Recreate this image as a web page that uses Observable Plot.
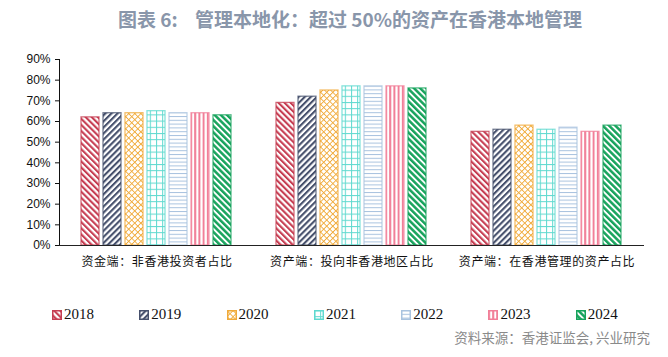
<!DOCTYPE html>
<html>
<head>
<meta charset="utf-8">
<script src="https://cdn.jsdelivr.net/npm/d3@7"></script>
<script src="https://cdn.jsdelivr.net/npm/@observablehq/plot@0.6"></script>
<style>
  body { margin: 0; background: #fff; width: 668px; height: 357px; overflow: hidden; font-family: "Noto Sans CJK SC", sans-serif; }
  #title { height: 40px; line-height: 38px; text-align: center; font-size: 19px; font-weight: bold; color: #8996aa; padding-left: 32px; box-sizing: border-box; white-space: pre; }
  #chart { height: 250px; }
  #legend { position: absolute; top: 306px; left: 52px; display: flex; }
  .item { width: 87.3px; display: flex; align-items: center; font-family: "Liberation Serif", serif; font-size: 15px; color: #111; }
  .item svg { margin-right: 2px; }
  #caption { position: absolute; top: 327px; right: 18px; font-size: 13.5px; color: #8a8a8a; }
</style>
</head>
<body>
<svg width="0" height="0" style="position:absolute">
  <defs id="defs"></defs>
</svg>
<div id="title">图表 6:    管理本地化：超过 50%的资产在香港本地管理</div>
<div id="chart"></div>
<div id="legend"></div>
<div id="caption">资料来源：香港证监会, 兴业研究</div>
<script>
const categories = ["资金端：非香港投资者占比", "资产端：投向非香港地区占比", "资产端：在香港管理的资产占比"];
const years = ["2018", "2019", "2020", "2021", "2022", "2023", "2024"];
const v2018 = [0.62, 0.69, 0.55];
const v2019 = [0.64, 0.72, 0.56];
const v2020 = [0.64, 0.75, 0.58];
const v2021 = [0.65, 0.77, 0.56];
const v2022 = [0.64, 0.77, 0.57];
const v2023 = [0.64, 0.77, 0.55];
const v2024 = [0.63, 0.76, 0.58];
const yTicks = [0, 0.1, 0.2, 0.3, 0.4, 0.5, 0.6, 0.7, 0.8, 0.9];

const series = [v2018, v2019, v2020, v2021, v2022, v2023, v2024];
const colors = {"2018": "#c63d52", "2019": "#46506c", "2020": "#f0aa3a", "2021": "#5fd9cf", "2022": "#a9c3df", "2023": "#f17f98", "2024": "#17a35c"};

// SVG patterns
const defs = document.getElementById("defs");
function pat(id, size, rot, inner) {
  return `<pattern id="${id}" patternUnits="userSpaceOnUse" width="${size}" height="${size}" patternTransform="rotate(${rot})"><rect width="${size}" height="${size}" fill="#fff"/>${inner}</pattern>`;
}
defs.innerHTML =
  pat("p2018", 4.3, -45, `<rect x="0" y="0" width="2.1" height="4.3" fill="${colors["2018"]}"/>`) +
  pat("p2019", 4.3, 45, `<rect x="0" y="0" width="2.1" height="4.3" fill="${colors["2019"]}"/>`) +
  pat("p2020", 4.3, 45, `<rect x="0" y="0" width="0.9" height="4.3" fill="${colors["2020"]}"/><rect x="0" y="0" width="4.3" height="0.9" fill="${colors["2020"]}"/>`) +
  pat("p2021", 6.2, 0, `<rect x="0" y="0" width="1" height="6.2" fill="${colors["2021"]}"/><rect x="0" y="0" width="6.2" height="1" fill="${colors["2021"]}"/>`) +
  pat("p2022", 3.8, 0, `<rect x="0" y="0" width="3.8" height="1" fill="${colors["2022"]}"/>`) +
  pat("p2023", 4.2, 0, `<rect x="0" y="0" width="2" height="4.2" fill="${colors["2023"]}"/>`) +
  pat("p2024", 4.4, -45, `<rect x="0" y="0" width="2.5" height="4.4" fill="${colors["2024"]}"/>`);

const data = [];
years.forEach((yr, j) => categories.forEach((c, i) => data.push({group: c, year: yr, value: series[j][i]})));

const facetHalf = (668 - 58 - 23) / 6;

const chart = Plot.plot({
  width: 668,
  height: 250,
  marginLeft: 58,
  marginRight: 23,
  marginTop: 19,
  marginBottom: 45,
  style: {fontFamily: "Liberation Sans, sans-serif", fontSize: "12px", color: "#111", background: "transparent"},
  fx: {domain: categories, padding: 0, label: null, tickSize: 0, tickPadding: 12, axis: "bottom"},
  x: {domain: years, paddingInner: 0.17, paddingOuter: 0.86, axis: null},
  y: {domain: [0, 0.9], ticks: yTicks, tickFormat: d3.format(".0%"), tickSize: 4, tickPadding: 5, label: null, line: true},
  marks: [
    Plot.barY(data, {
      fx: "group", x: "year", y: "value",
      fill: d => `url(#p${d.year})`,
      stroke: d => colors[d.year],
      strokeWidth: 1.3,
      strokeOpacity: 0.75
    }),
    Plot.ruleY([0], {stroke: "#222", strokeWidth: 1}),
    Plot.ruleX(categories, {fx: d => d, y1: 0, y2: -0.025, dx: -facetHalf, stroke: "#222"}),
    Plot.ruleX([categories[2]], {fx: d => d, y1: 0, y2: -0.025, dx: facetHalf - 0.5, stroke: "#222"})
  ]
});
document.getElementById("chart").appendChild(chart);
d3.select(chart).selectAll("[aria-label='fx-axis tick label'] text, g[aria-label='fx-axis'] text")
  .style("font-family", "'Noto Sans CJK SC', serif").style("font-size", "12px").style("letter-spacing", "0.6px");

// Legend
const legend = document.getElementById("legend");
years.forEach(yr => {
  const it = document.createElement("div");
  it.className = "item";
  it.innerHTML = `<svg width="10" height="10"><rect x="0.75" y="0.75" width="8.5" height="8.5" fill="url(#p${yr})" stroke="${colors[yr]}" stroke-width="1.5"/></svg>${yr}`;
  legend.appendChild(it);
});
</script>
</body>
</html>
